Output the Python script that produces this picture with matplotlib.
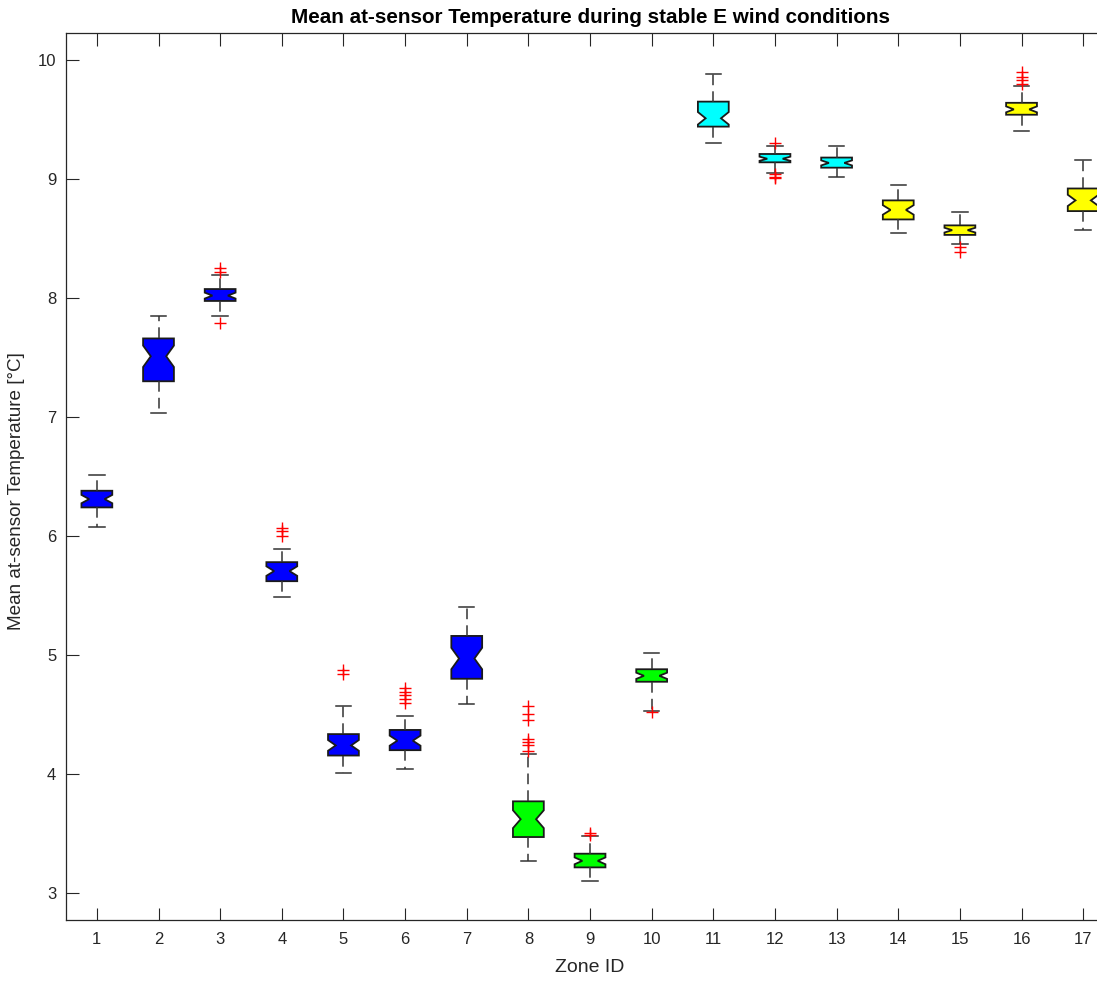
import numpy as np
import matplotlib
matplotlib.use('Agg')
import matplotlib.pyplot as plt

# zone statistics (degC)
zones = np.arange(1, 18)
q1 = [6.24, 7.30, 7.975, 5.62, 4.155, 4.20, 4.80, 3.47, 3.215, 4.775,
      9.44, 9.14, 9.095, 8.66, 8.53, 9.54, 8.73]
med = [6.31, 7.51, 8.02, 5.705, 4.24, 4.28, 4.97, 3.62, 3.27, 4.825,
       9.51, 9.17, 9.135, 8.74, 8.57, 9.585, 8.82]
q3 = [6.38, 7.66, 8.075, 5.78, 4.335, 4.37, 5.16, 3.77, 3.33, 4.88,
      9.65, 9.21, 9.18, 8.82, 8.61, 9.64, 8.92]
whislo = [6.075, 7.03, 7.85, 5.49, 4.01, 4.04, 4.59, 3.27, 3.10, 4.53,
          9.30, 9.05, 9.02, 8.55, 8.45, 9.40, 8.57]
whishi = [6.51, 7.85, 8.19, 5.89, 4.57, 4.49, 5.40, 4.17, 3.48, 5.02,
          9.88, 9.28, 9.28, 8.95, 8.725, 9.78, 9.16]
outliers = [[], [], [8.25, 8.22, 7.79], [6.07, 6.04, 6.00], [4.87, 4.84],
            [4.72, 4.69, 4.66, 4.63, 4.60], [],
            [4.57, 4.50, 4.45, 4.29, 4.27, 4.24, 4.19], [3.50, 3.49], [4.52],
            [], [9.30, 9.04, 9.02, 9.005], [], [], [8.43, 8.39],
            [9.90, 9.86, 9.83, 9.80], []]
groups = ['b'] * 7 + ['g'] * 3 + ['c'] * 3 + ['y'] * 4
fill = {'b': '#0000ff', 'g': '#00ff00', 'c': '#00ffff', 'y': '#ffff00'}

plt.rcParams['font.family'] = ['Liberation Sans', 'DejaVu Sans']

stats = []
for i in range(len(zones)):
    iqr = q3[i] - q1[i]
    stats.append(dict(med=med[i], q1=q1[i], q3=q3[i],
                      whislo=whislo[i], whishi=whishi[i],
                      fliers=outliers[i],
                      cilo=med[i] - 0.25 * iqr, cihi=med[i] + 0.25 * iqr))

fig = plt.figure(figsize=(10.97, 9.81), dpi=100)
ax = fig.add_axes([0.0602, 0.0622, 0.9553, 0.9042])

bp = ax.bxp(stats, positions=zones, widths=0.5, shownotches=True,
            patch_artist=True, manage_ticks=False,
            boxprops=dict(edgecolor='#1a1a1a', linewidth=1.3),
            whiskerprops=dict(color='#333333', linewidth=1.1,
                              linestyle=(0, (7, 4))),
            capprops=dict(color='#333333', linewidth=1.1),
            medianprops=dict(linewidth=0),
            flierprops=dict(marker='+', markeredgecolor='red',
                            markersize=8, markeredgewidth=1.0))
for patch, g in zip(bp['boxes'], groups):
    patch.set_facecolor(fill[g])

ax.set_xlim(0.5, 17.5)
ax.set_ylim(2.773, 10.227)
ax.set_xticks(zones)
ax.set_yticks(np.arange(3, 11))
ax.tick_params(direction='in', length=9, width=0.8, top=True, right=True,
               labelsize=12, colors='#262626')
ax.tick_params(axis='x', pad=9)
ax.tick_params(axis='y', pad=7)
for s in ax.spines.values():
    s.set_color('#262626')
    s.set_linewidth(0.9)

ax.set_title('Mean at-sensor Temperature during stable E wind conditions',
             fontsize=14.9, fontweight='bold', pad=7)
ax.set_xlabel('Zone ID', fontsize=14, color='#262626', labelpad=8)
ax.set_ylabel('Mean at-sensor Temperature [\u00b0C]', fontsize=13.6,
              color='#262626')
ax.yaxis.set_label_coords(-0.039, 0.484)

fig.savefig('out.png', dpi=100)
